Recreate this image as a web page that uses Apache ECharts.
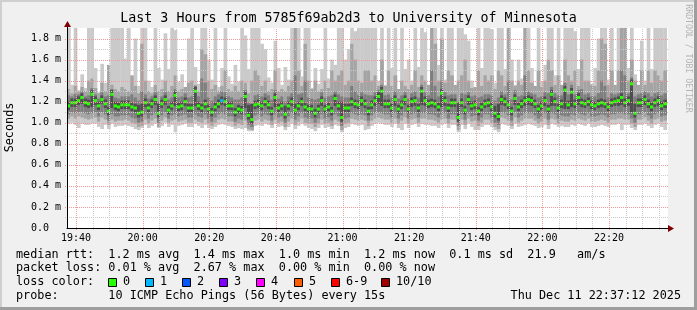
<!DOCTYPE html>
<html><head><meta charset="utf-8">
<script src="https://cdn.jsdelivr.net/npm/echarts@6/dist/echarts.min.js"></script>
<style>html,body{margin:0;padding:0;background:#f0f0f0}#c{width:697px;height:310px}</style>
</head><body><div id="c"></div>
<script>
// ---------------- data (values in 1/100 ms, one column per minute) ----------------
const START_MIN = 1177.3;   // 19:37:18 in minutes after midnight
const END_MIN = 1357.7;     // 22:37:42
const SCALE = 0.01;         // stored units -> ms

// median rtt per column
const median = [
116,119,119,121,124,119,118,127,121,116,122,118,111,127,116,115,117,117,117,115,114,109,110,119,114,118,122,109,118,122,
112,116,126,115,116,120,114,114,130,116,114,118,113,110,115,118,121,120,116,116,110,113,112,125,107,103,117,118,116,120,
117,111,124,114,116,108,116,120,112,116,120,115,113,113,109,113,121,113,115,111,123,116,105,114,114,120,118,117,121,118,
111,117,121,125,130,118,118,114,122,113,117,122,113,120,121,114,130,121,118,119,118,115,128,121,114,119,119,105,119,112,
122,116,117,111,115,118,119,115,109,106,122,120,117,111,123,115,118,121,122,121,118,113,116,121,113,127,120,114,118,131,
117,129,118,124,119,118,120,117,116,118,119,118,115,119,120,121,124,119,121,137,109,119,119,122,118,115,119,121,116,118];
// slowest ping (top of lightest smoke)
const pingMax = [
195,136,195,131,146,133,195,195,152,129,156,138,147,195,195,195,195,161,195,142,180,135,195,195,140,134,195,152,141,185,
151,195,188,139,146,132,180,195,153,137,195,195,160,141,195,134,152,195,144,137,155,139,195,183,151,195,195,192,175,170,
143,138,178,152,136,153,141,195,195,195,144,195,195,133,152,137,151,195,142,160,155,195,195,160,170,195,187,195,195,195,
195,190,195,140,195,136,195,152,195,131,195,151,160,140,195,153,195,186,136,195,195,155,195,141,195,195,134,195,195,184,
178,140,133,195,152,195,195,189,138,195,195,151,195,160,136,160,142,195,195,152,131,195,139,155,195,195,145,195,135,195,
195,195,187,151,195,195,195,137,152,180,195,195,141,195,134,195,195,195,152,195,146,133,178,140,195,151,195,195,195,190];
// 9th of 10 pings
const ping9 = [
132,128,135,130,134,130,140,142,133,128,138,130,155,136,132,130,134,132,130,145,135,128,175,140,130,128,136,130,132,140,
130,135,145,130,132,134,138,140,136,130,170,165,140,132,136,130,135,150,132,130,135,130,140,138,128,140,150,145,135,140,
130,132,150,130,132,130,135,140,195,150,135,175,140,132,140,130,132,140,133,150,140,145,150,136,140,175,160,140,138,150,
150,140,145,135,160,135,150,135,145,132,140,135,132,136,150,134,145,140,136,195,175,140,180,138,150,145,136,140,145,160,
140,133,134,150,135,145,140,145,132,150,145,135,195,140,135,140,136,195,150,138,135,150,134,140,160,150,136,145,136,160,
145,140,150,135,160,140,140,136,135,150,180,175,136,150,136,150,195,195,140,160,140,136,150,136,150,138,150,145,140,150];
// 8th of 10 pings
const ping8 = [
126,125,127,127,130,125,126,133,127,123,129,125,126,132,124,123,125,125,125,127,124,121,130,127,123,125,129,120,125,129,
122,124,132,124,125,128,124,125,135,125,142,138,124,121,125,127,130,129,125,124,122,122,124,131,119,118,126,127,125,128,
126,122,131,123,125,120,125,128,145,127,128,140,124,123,122,123,129,124,125,126,130,127,125,124,124,135,130,126,129,127,
126,126,129,131,136,126,127,124,130,123,126,129,123,128,130,124,136,129,126,150,135,125,140,129,126,127,127,120,128,127,
129,125,126,124,125,127,127,126,121,124,130,127,140,122,131,125,126,145,130,128,127,124,125,129,128,134,128,126,126,138,
127,136,127,131,132,127,128,125,125,128,140,135,124,128,127,128,150,145,128,143,125,127,128,130,128,125,128,129,126,128];
// 7th of 10 pings
const ping7 = [
120,123,123,125,128,123,122,131,125,120,126,122,115,131,120,119,121,121,121,119,118,117,118,123,118,122,126,118,122,126,
116,120,130,119,120,124,118,118,134,120,118,122,117,114,119,122,125,124,120,120,114,117,116,129,117,118,121,122,120,124,
121,115,128,118,120,116,120,124,118,120,124,119,117,117,113,117,125,117,119,115,127,120,120,118,118,124,122,121,125,122,
115,121,125,129,134,122,122,118,126,117,121,126,117,124,125,118,134,125,122,123,122,119,132,125,118,123,123,119,123,116,
126,120,121,115,119,122,123,119,116,118,126,124,121,115,127,119,122,125,126,125,122,117,120,125,117,131,124,118,122,135,
121,133,122,128,123,122,124,121,120,122,123,122,119,123,124,125,128,123,125,141,118,123,123,126,122,119,123,125,120,122];
// 4th of 10 pings
const ping4 = [
112,115,115,117,118,115,114,115,117,112,118,114,107,114,112,111,113,113,113,111,110,105,106,115,110,114,117,105,114,117,
108,112,116,111,112,116,110,110,116,112,110,114,109,106,111,114,117,116,112,112,106,109,108,114,103,99,113,114,112,116,
113,107,115,110,112,104,112,116,108,112,116,111,109,109,105,109,116,109,111,107,116,112,101,110,110,116,114,113,116,114,
107,113,116,118,116,114,114,110,116,109,113,117,109,115,116,110,117,116,114,115,114,111,115,116,110,115,115,101,115,108,
117,112,113,107,111,114,115,111,105,102,117,116,113,107,117,111,114,116,117,116,114,109,112,116,109,116,116,110,114,113,
113,115,114,117,115,114,116,113,112,114,115,114,111,115,116,116,117,115,116,110,105,115,115,117,114,111,115,116,112,114];
// 3rd of 10 pings
const ping3 = [
108,110,109,110,110,109,108,109,110,106,110,108,102,108,106,106,107,107,107,105,104,100,101,108,104,107,109,100,107,110,
104,107,108,106,107,108,105,105,108,106,105,108,104,101,105,108,109,108,106,106,101,104,103,107,98,96,107,108,106,108,
107,102,108,105,106,100,106,109,103,106,109,105,104,104,100,104,108,104,105,102,108,106,97,104,105,109,108,107,108,107,
102,107,109,110,109,108,108,105,109,104,107,110,104,108,109,105,109,109,108,108,107,105,108,109,104,108,108,97,108,103,
109,106,107,102,105,108,108,105,100,98,110,109,107,102,110,105,107,109,109,109,107,104,106,109,103,109,108,104,107,106,
106,108,107,109,108,107,109,106,106,107,108,107,105,108,108,109,109,108,108,104,100,108,108,110,107,104,108,109,106,107];
// 2nd of 10 pings
const ping2 = [
104,106,104,106,105,104,103,104,105,101,105,103,98,103,101,102,102,103,102,100,99,96,97,103,99,102,104,96,102,105,
100,102,103,101,102,103,100,100,103,101,100,103,99,97,100,103,104,103,101,101,97,99,98,102,94,93,102,103,101,103,
102,98,103,100,101,96,101,104,98,101,104,100,99,99,96,99,103,99,100,97,103,101,93,99,100,104,103,102,103,102,
97,102,104,105,104,103,103,100,104,99,102,105,99,103,104,100,104,104,103,103,102,100,103,104,99,103,103,93,103,98,
104,101,102,97,100,103,103,100,96,94,105,104,102,97,105,100,102,104,104,104,102,99,101,104,98,104,103,99,102,101,
101,103,102,104,103,102,104,101,101,102,103,102,100,103,103,104,104,103,103,99,96,103,103,105,102,99,103,104,101,102];
// fastest ping (bottom of lightest smoke)
const pingMin = [
99,100,98,95,99,98,98,99,99,96,94,98,94,99,96,97,97,98,97,96,94,93,95,98,95,97,99,95,97,100,
96,98,91,97,98,99,96,96,99,97,95,98,95,94,96,98,99,98,97,96,94,95,94,95,92,92,97,98,97,99,
98,95,99,96,97,93,96,99,94,97,99,97,95,94,92,95,98,95,96,94,98,97,91,95,96,99,98,97,98,93,
94,97,99,100,99,98,98,96,99,95,93,99,95,98,99,96,99,98,98,97,97,95,98,99,95,98,98,91,98,94,
99,96,93,93,96,98,98,96,93,91,99,98,97,94,99,96,97,98,99,98,97,95,96,98,94,99,98,96,97,96,
96,98,97,99,98,97,99,96,96,97,98,97,96,98,98,99,93,98,98,95,93,98,98,99,97,95,98,99,96,93];
// columns with lost pings
const lossColumns = [46];
const lossCounts  = [1];

const lossLabels = ['0','1','2','3','4','5','6-9','10/10'];
const lossColors = ['#26ff00','#00b8ff','#0059ff','#7e00ff','#ff00fe','#ff5e00','#ff0000','#a10000'];

const xTickValues = [1180,1200,1220,1240,1260,1280,1300,1320,1340];
const xTickLabels = ['19:40','20:00','20:20','20:40','21:00','21:20','21:40','22:00','22:20'];

const title = 'Last 3 Hours from 5785f69ab2d3 to University of Minnesota';
const rttStats  = ['1.2','1.4','1.0','1.2'];   // avg max min now (ms)
const rttSd = '0.1', amPerSec = '21.9';
const lossStats = ['0.01','2.67','0.00','0.00']; // avg max min now (%)
const probeText = '10 ICMP Echo Pings (56 Bytes) every 15s';
const dateText = 'Thu Dec 11 22:37:12 2025';

// ---------------- build ----------------
const Y_MAX = 1.9;
const MONO = "'DejaVu Sans Mono', monospace";
const loss = median.map(() => 0);
lossColumns.forEach((c, k) => { loss[c] = lossCounts[k]; });
function lossColorIndex(n) { return n >= 10 ? 7 : n >= 6 ? 6 : n; }

const smokeData = median.map((m, i) => [
  START_MIN + i, START_MIN + i + 1,
  pingMin[i]*SCALE, ping2[i]*SCALE, ping3[i]*SCALE, ping4[i]*SCALE,
  m*SCALE, ping7[i]*SCALE, ping8[i]*SCALE, ping9[i]*SCALE, pingMax[i]*SCALE,
  lossColorIndex(loss[i])
]);

const gridData = [];
for (let t = 1180; t < END_MIN; t += 5) gridData.push([0, t, t % 20 === 0 ? 1 : 0]);
for (let k = 1; k <= 18; k++) gridData.push([1, k/10, k % 2 === 0 ? 1 : 0]);

const SMOKE = ['#cacaca','#a4a4a4','#7e7e7e','#4e4e4e'];
function renderSmoke(params, api) {
  const t0 = api.value(0), t1 = api.value(1);
  const xa = api.coord([t0, 0])[0], xb = api.coord([t1, 0])[0];
  const w = xb - xa + 0.35;
  const pairs = [[2,10],[3,9],[4,8],[5,7]];
  const children = [];
  pairs.forEach(([lo, hi], k) => {
    const yl = api.coord([t0, Math.min(api.value(lo), Y_MAX)])[1];
    const yh = api.coord([t0, Math.min(api.value(hi), Y_MAX)])[1];
    children.push({type:'rect', shape:{x:xa, y:yh, width:w, height:yl-yh}, style:{fill:SMOKE[k]}});
  });
  const ym = api.coord([t0, api.value(6)])[1];
  children.push({type:'rect', shape:{x:xa, y:ym-1.5, width:w, height:3}, style:{fill:lossColors[api.value(11)]}});
  return {type:'group', children};
}
function renderGrid(params, api) {
  const dir = api.value(0), v = api.value(1), major = api.value(2);
  const style = {stroke: major ? '#ee9a9a' : '#cccccc', lineWidth: 1, lineDash: [1,1]};
  if (dir === 0) {
    const p0 = api.coord([v, 0]), p1 = api.coord([v, Y_MAX]);
    const x = Math.round(p0[0]) + 0.5;
    return {type:'line', shape:{x1:x, y1:p0[1]+2, x2:x, y2:p1[1]}, style};
  }
  const p0 = api.coord([START_MIN, v]), p1 = api.coord([END_MIN, v]);
  const y = Math.round(p0[1]) + 0.5;
  return {type:'line', shape:{x1:p0[0]-2, y1:y, x2:p1[0], y2:y}, style};
}

const row1 = `median rtt:  ${rttStats[0]} ms avg  ${rttStats[1]} ms max  ${rttStats[2]} ms min  ${rttStats[3]} ms now  ${rttSd} ms sd  ${amPerSec}   am/s`;
const row2 = `packet loss: ${lossStats[0]} % avg  ${lossStats[1]} % max  ${lossStats[2]} % min  ${lossStats[3]} % now`;
const row4 = `probe:       ${probeText}`;

const FS = 11.8;
const graphics = [
  {type:'rect', shape:{x:0,y:0,width:697,height:2}, style:{fill:'#cfcfcf'}, silent:true},
  {type:'rect', shape:{x:0,y:0,width:2,height:310}, style:{fill:'#cfcfcf'}, silent:true},
  {type:'rect', shape:{x:0,y:307,width:697,height:3}, style:{fill:'#9e9e9e'}, silent:true},
  {type:'rect', shape:{x:694,y:0,width:3,height:310}, style:{fill:'#9e9e9e'}, silent:true},
  {type:'text', x:348.5, y:19, style:{text:title, fontFamily:MONO, fontSize:13.3, fill:'#000', align:'center', verticalAlign:'middle'}},
  {type:'text', x:10, y:127.5, rotation:Math.PI/2, style:{text:'Seconds', fontFamily:MONO, fontSize:11.8, fill:'#000', align:'center', verticalAlign:'middle'}},
  {type:'text', x:688, y:58.5, rotation:-Math.PI/2, style:{text:'RRDTOOL / TOBI OETIKER', fontFamily:MONO, fontSize:8.2, fill:'#b4b4b4', align:'center', verticalAlign:'middle'}},
  {type:'line', shape:{x1:67.5, y1:25, x2:67.5, y2:29}, style:{stroke:'#000', lineWidth:1}, z:10},
  {type:'polygon', shape:{points:[[668,225],[674,228.5],[668,232]]}, style:{fill:'#7f0000'}, z:10},
  {type:'polygon', shape:{points:[[64,27],[67.5,21],[71,27]]}, style:{fill:'#7f0000'}, z:10},
  {type:'text', x:16, y:254.5, style:{text:row1, fontFamily:MONO, fontSize:FS, fill:'#000', verticalAlign:'middle'}},
  {type:'text', x:16, y:268.4, style:{text:row2, fontFamily:MONO, fontSize:FS, fill:'#000', verticalAlign:'middle'}},
  {type:'text', x:16, y:282.3, style:{text:'loss color:', fontFamily:MONO, fontSize:FS, fill:'#000', verticalAlign:'middle'}},
  {type:'text', x:16, y:296.2, style:{text:row4, fontFamily:MONO, fontSize:FS, fill:'#000', verticalAlign:'middle'}},
  {type:'text', x:681, y:296.2, style:{text:dateText, fontFamily:MONO, fontSize:FS, fill:'#000', align:'right', verticalAlign:'middle'}}
];
const legendX = [108.5,145.5,182.5,219.5,256.5,294.5,331.5,381.5];
lossLabels.forEach((lab, k) => {
  graphics.push({type:'rect', shape:{x:legendX[k], y:278.5, width:8, height:8}, style:{fill:lossColors[k], stroke:'#000', lineWidth:1}});
  graphics.push({type:'text', x:legendX[k]+14.5, y:282.3, style:{text:lab, fontFamily:MONO, fontSize:FS, fill:'#000', verticalAlign:'middle'}});
});

const chart = echarts.init(document.getElementById('c'), null, {renderer:'canvas'});
chart.setOption({
  backgroundColor: '#f0f0f0',
  animation: false,
  grid: {left:67, right:29, top:28, bottom:82, show:true, backgroundColor:'#ffffff', borderWidth:0},
  xAxis: {
    type:'value', min:START_MIN, max:END_MIN, z:4,
    axisLine:{show:true, onZero:false, lineStyle:{color:'#000', width:1}},
    axisTick:{show:false},
    splitLine:{show:false},
    axisLabel:{customValues:xTickValues, fontFamily:MONO, fontSize:10, color:'#000', margin:5,
      formatter:(v)=>{ const k = xTickValues.indexOf(Math.round(v)); return k >= 0 ? xTickLabels[k] : ''; }}
  },
  yAxis: {
    type:'value', min:0, max:Y_MAX, interval:0.2, z:4,
    axisLine:{show:true, lineStyle:{color:'#000', width:1}},
    axisTick:{show:false},
    splitLine:{show:false},
    axisLabel:{fontFamily:MONO, fontSize:10, color:'#000', margin:6, showMaxLabel:false,
      formatter:(v)=> v > 1.85 ? '' : (v === 0 ? '0.0  ' : v.toFixed(1) + ' m')}
  },
  series: [
    {type:'custom', name:'smoke', renderItem:renderSmoke, data:smokeData, z:2, silent:true,
     encode:{x:[0,1], y:[2,3,4,5,6,7,8,9,10]}},
    {type:'custom', name:'grid', renderItem:renderGrid, data:gridData, z:3, silent:true,
     encode:{x:-1, y:-1}}
  ],
  graphic: graphics
});
</script></body></html>
